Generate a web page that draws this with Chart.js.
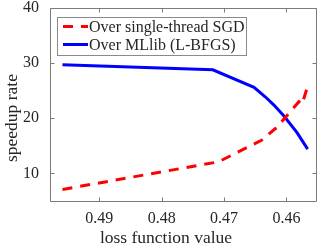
<!DOCTYPE html>
<html>
<head>
<meta charset="utf-8">
<script src="https://cdn.jsdelivr.net/npm/chart.js@4.4.1/dist/chart.umd.min.js"></script>
<style>
  html, body { margin: 0; padding: 0; background: #fff; }
  #wrap { width: 317px; height: 249px; position: relative; }
</style>
</head>
<body>
<div id="wrap"><canvas id="chart"></canvas></div>
<script>
// speedup vs loss
const sgdLoss = [0.4959, 0.4709, 0.4640, 0.4616, 0.4580, 0.4575, 0.4565];
const sgdSpeedup = [7.1, 12.1, 16.0, 18.3, 23.0, 22.5, 26.2];
const mllibLoss = [0.4959, 0.4718, 0.4652, 0.4634, 0.4620, 0.4604, 0.4583, 0.4566];
const mllibSpeedup = [29.7, 28.8, 25.6, 23.9, 22.4, 20.4, 17.4, 14.4];

const seriesNames = ['Over single-thread SGD', 'Over MLlib (L-BFGS)'];
const xTicks = [0.49, 0.48, 0.47, 0.46];
const yTicks = [10, 20, 30, 40];

const FONT = '"Liberation Serif", "Times New Roman", serif';
const TEXT = '#262626';
const FRAME = '#7a7a7a';

function toPoints(xs, ys) {
    return xs.map((x, i) => ({ x: x, y: ys[i] }));
}

// top/right frame, inward ticks, axis titles and the boxed legend
const decor = {
    id: 'decor',
    afterDraw(chart) {
        const ctx = chart.ctx;
        const a = chart.chartArea;
        const xs = chart.scales.x, ys = chart.scales.y;
        const L = Math.round(a.left) + 0.5, R = Math.round(a.right) - 0.5;
        const T = Math.round(a.top) + 0.5, B = Math.round(a.bottom) + 0.5;
        ctx.save();
        ctx.setLineDash([]);
        ctx.globalAlpha = 1;
        ctx.strokeStyle = FRAME;
        ctx.lineWidth = 1;
        ctx.beginPath();
        ctx.moveTo(L, B); ctx.lineTo(L, T); ctx.lineTo(R, T); ctx.lineTo(R, B); ctx.lineTo(L, B);
        xTicks.forEach(v => {
            const px = Math.round(xs.getPixelForValue(v)) + 0.5;
            ctx.moveTo(px, B); ctx.lineTo(px, B - 4);
            ctx.moveTo(px, T); ctx.lineTo(px, T + 4);
        });
        yTicks.forEach(v => {
            const py = Math.round(ys.getPixelForValue(v)) + 0.5;
            ctx.moveTo(L, py); ctx.lineTo(L + 4, py);
            ctx.moveTo(R, py); ctx.lineTo(R - 4, py);
        });
        ctx.stroke();

        // axis titles
        ctx.fillStyle = TEXT;
        ctx.font = '17.5px ' + FONT;
        ctx.textAlign = 'center';
        ctx.textBaseline = 'middle';
        ctx.fillText('loss function value', 166, 238);
        ctx.save();
        ctx.translate(12, 118);
        ctx.rotate(-Math.PI / 2);
        ctx.fillText('speedup rate', 0, 0);
        ctx.restore();

        // legend
        const lx = 57.5, ly = 17.5, lw = 189, lh = 38;
        ctx.fillStyle = '#fff';
        ctx.fillRect(lx, ly, lw, lh);
        ctx.strokeStyle = '#8a8a8a';
        ctx.lineWidth = 1;
        ctx.strokeRect(lx, ly, lw, lh);
        ctx.font = '16px ' + FONT;
        ctx.textAlign = 'left';
        chart.data.datasets.forEach((ds, i) => {
            const y = ly + 9 + i * 18;
            ctx.beginPath();
            ctx.strokeStyle = ds.borderColor;
            ctx.lineWidth = ds.borderWidth;
            ctx.setLineDash(ds.borderDash || []);
            ctx.moveTo(63, y);
            ctx.lineTo(88, y);
            ctx.stroke();
            ctx.setLineDash([]);
            ctx.fillStyle = TEXT;
            ctx.fillText(ds.label, 89, y + 1);
        });
        ctx.restore();
    }
};

new Chart(document.getElementById('chart'), {
    type: 'scatter',
    data: {
        datasets: [{
            label: seriesNames[0],
            data: toPoints(sgdLoss, sgdSpeedup),
            showLine: true,
            borderColor: '#ff0000',
            borderWidth: 3,
            borderDash: [10, 8],
            pointRadius: 0,
            tension: 0
        }, {
            label: seriesNames[1],
            data: toPoints(mllibLoss, mllibSpeedup),
            showLine: true,
            borderColor: '#0000ff',
            borderWidth: 3,
            pointRadius: 0,
            tension: 0
        }]
    },
    options: {
        responsive: true,
        maintainAspectRatio: false,
        animation: false,
        layout: { padding: { top: 8, right: 0, left: 0, bottom: 0 } },
        plugins: {
            legend: { display: false },
            tooltip: { enabled: false }
        },
        scales: {
            x: {
                type: 'linear',
                reverse: true,
                min: 0.4551,
                max: 0.4979,
                afterBuildTicks: s => { s.ticks = xTicks.map(v => ({ value: v })); },
                afterFit: s => { s.height = 48; s.paddingLeft = 0; s.paddingRight = 0; },
                grid: { display: false, drawTicks: false },
                border: { display: false },
                ticks: {
                    font: { family: FONT, size: 16 },
                    color: TEXT,
                    padding: 8,
                    maxRotation: 0,
                    callback: v => v.toFixed(2)
                }
            },
            y: {
                type: 'linear',
                min: 5,
                max: 40,
                afterBuildTicks: s => { s.ticks = yTicks.map(v => ({ value: v })); },
                afterFit: s => { s.width = 50; s.paddingTop = 0; s.paddingBottom = 0; },
                grid: { display: false, drawTicks: false },
                border: { display: false },
                ticks: {
                    font: { family: FONT, size: 16 },
                    color: TEXT,
                    padding: 11
                }
            }
        }
    },
    plugins: [decor]
});
</script>
</body>
</html>
